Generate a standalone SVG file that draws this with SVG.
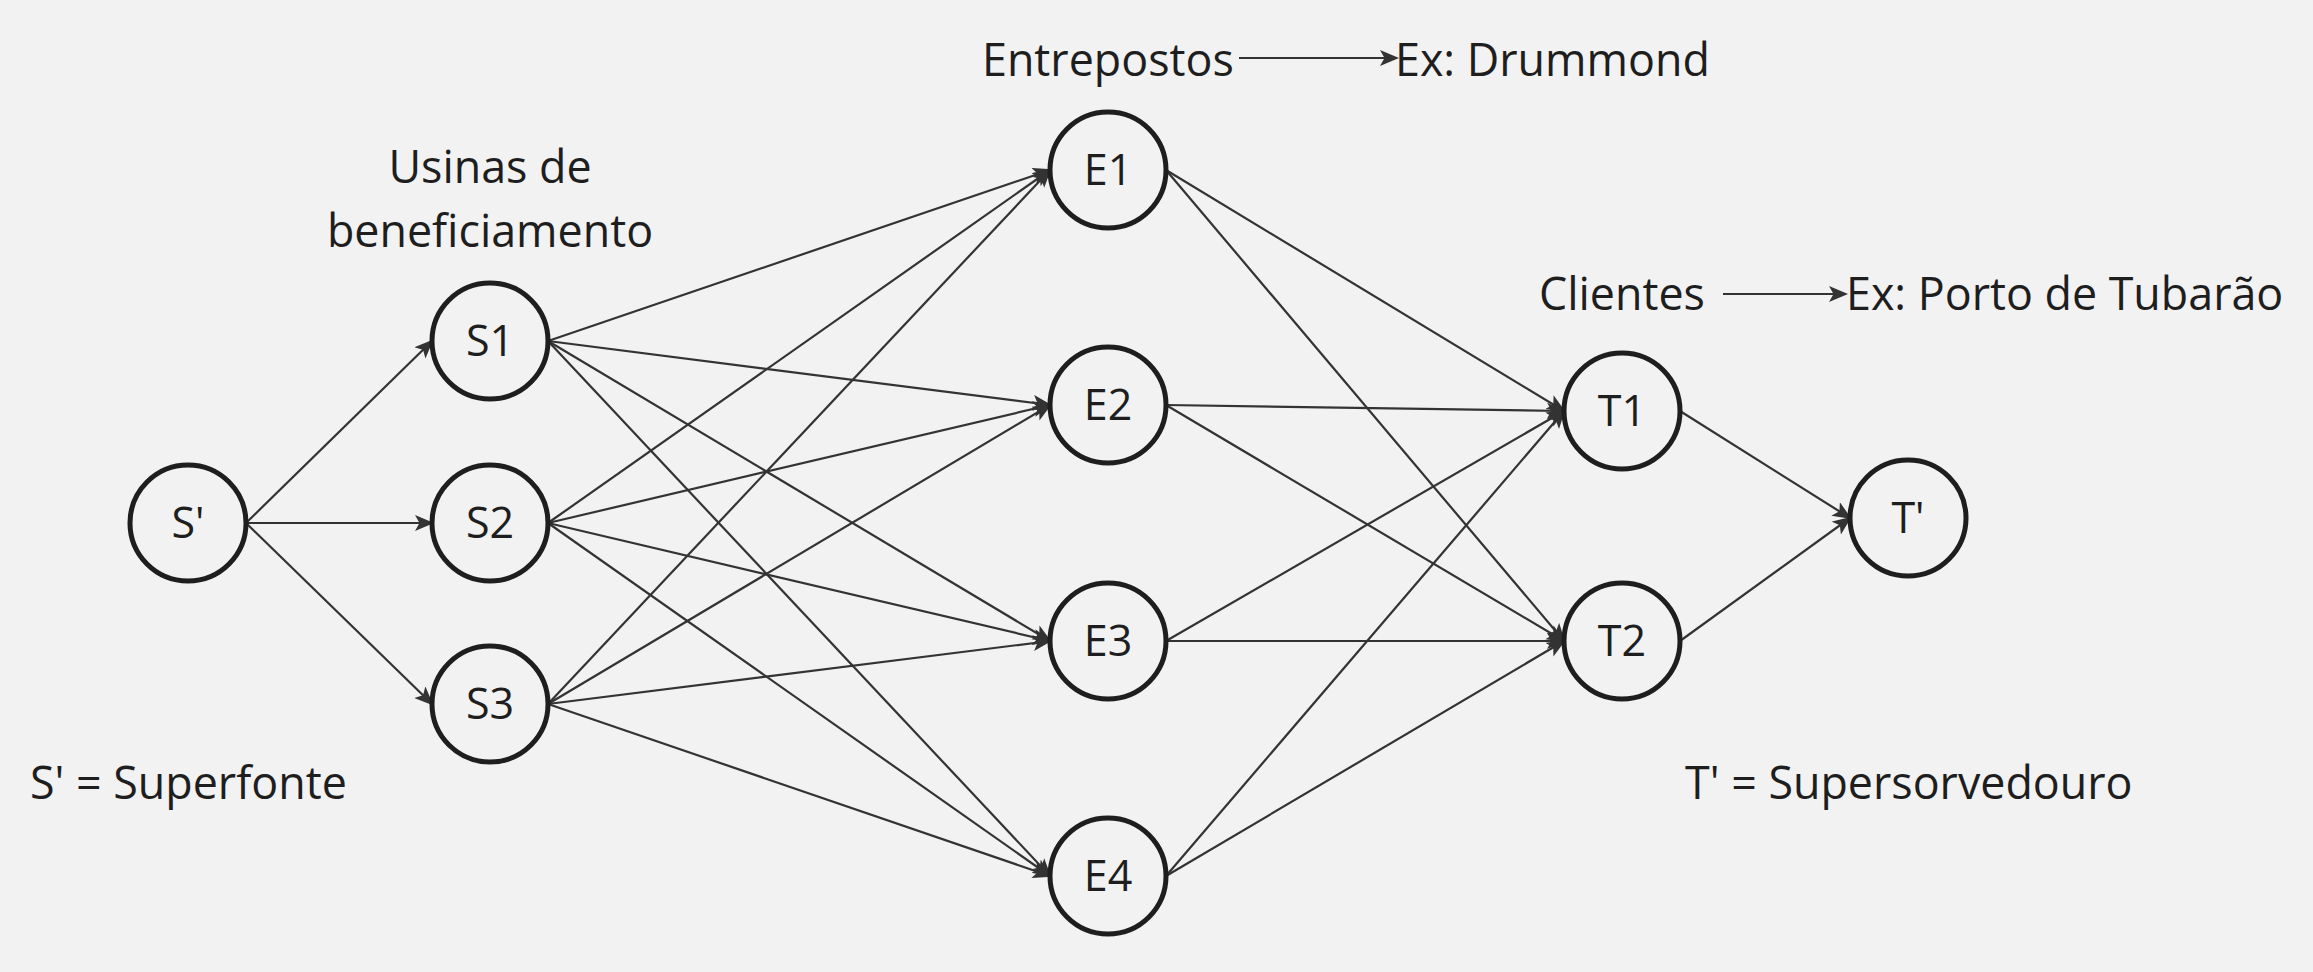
<svg xmlns="http://www.w3.org/2000/svg" width="2313" height="972" viewBox="0 0 2313 972">
<defs>
<marker id="arr" markerUnits="userSpaceOnUse" markerWidth="20" markerHeight="18" refX="17" refY="8" orient="auto">
<path d="M0,0 L19,8 L0,16 L4.5,8 z" fill="#333333"/>
</marker>
<style>
.bg{fill:#f2f2f2}
.node circle{fill:#f2f2f2;stroke:#1e1e1e;stroke-width:5}
.node text{font-family:"Open Sans","Noto Sans","Liberation Sans",sans-serif;font-size:43px;fill:#1e1e1e;text-anchor:middle}
.lbl{font-family:"Open Sans","Noto Sans","Liberation Sans",sans-serif;font-size:44.8px;fill:#1e1e1e}
.edges line{stroke:#333333;stroke-width:2.2;marker-end:url(#arr)}
</style>
</defs>
<rect class="bg" x="0" y="0" width="2313" height="972"/>
<g id="connectors" class="edges">
<line x1="246" y1="523" x2="432" y2="341"/>
<line x1="246" y1="523" x2="432" y2="523"/>
<line x1="246" y1="523" x2="432" y2="704"/>
<line x1="548" y1="341" x2="1050" y2="170"/>
<line x1="548" y1="341" x2="1050" y2="405"/>
<line x1="548" y1="341" x2="1050" y2="641"/>
<line x1="548" y1="341" x2="1050" y2="876"/>
<line x1="548" y1="523" x2="1050" y2="170"/>
<line x1="548" y1="523" x2="1050" y2="405"/>
<line x1="548" y1="523" x2="1050" y2="641"/>
<line x1="548" y1="523" x2="1050" y2="876"/>
<line x1="548" y1="704" x2="1050" y2="170"/>
<line x1="548" y1="704" x2="1050" y2="405"/>
<line x1="548" y1="704" x2="1050" y2="641"/>
<line x1="548" y1="704" x2="1050" y2="876"/>
<line x1="1166" y1="170" x2="1564" y2="411"/>
<line x1="1166" y1="170" x2="1564" y2="641"/>
<line x1="1166" y1="405" x2="1564" y2="411"/>
<line x1="1166" y1="405" x2="1564" y2="641"/>
<line x1="1166" y1="641" x2="1564" y2="411"/>
<line x1="1166" y1="641" x2="1564" y2="641"/>
<line x1="1166" y1="876" x2="1564" y2="411"/>
<line x1="1166" y1="876" x2="1564" y2="641"/>
<line x1="1680" y1="411" x2="1850" y2="518"/>
<line x1="1680" y1="641" x2="1850" y2="518"/>
<line x1="1239" y1="58" x2="1397" y2="58"/>
<line x1="1723" y1="294" x2="1846" y2="294"/>
</g>
<g id="node-Sp" class="node"><circle cx="188" cy="523" r="58"/><text x="188" y="538">S'</text></g>
<g id="node-S1" class="node"><circle cx="490" cy="341" r="58"/><text x="490" y="356">S1</text></g>
<g id="node-S2" class="node"><circle cx="490" cy="523" r="58"/><text x="490" y="538">S2</text></g>
<g id="node-S3" class="node"><circle cx="490" cy="704" r="58"/><text x="490" y="719">S3</text></g>
<g id="node-E1" class="node"><circle cx="1108" cy="170" r="58"/><text x="1108" y="185">E1</text></g>
<g id="node-E2" class="node"><circle cx="1108" cy="405" r="58"/><text x="1108" y="420">E2</text></g>
<g id="node-E3" class="node"><circle cx="1108" cy="641" r="58"/><text x="1108" y="656">E3</text></g>
<g id="node-E4" class="node"><circle cx="1108" cy="876" r="58"/><text x="1108" y="891">E4</text></g>
<g id="node-T1" class="node"><circle cx="1622" cy="411" r="58"/><text x="1622" y="426">T1</text></g>
<g id="node-T2" class="node"><circle cx="1622" cy="641" r="58"/><text x="1622" y="656">T2</text></g>
<g id="node-Tp" class="node"><circle cx="1908" cy="518" r="58"/><text x="1908" y="533">T'</text></g>
<g id="labels">
<text class="lbl" x="490" y="183" text-anchor="middle">Usinas de</text>
<text class="lbl" x="490" y="247" text-anchor="middle">beneficiamento</text>
<text class="lbl" x="982" y="76">Entrepostos</text>
<text class="lbl" x="1395" y="76">Ex: Drummond</text>
<text class="lbl" x="1539" y="310">Clientes</text>
<text class="lbl" x="1846" y="310">Ex: Porto de Tubarão</text>
<text class="lbl" x="30" y="799">S' = Superfonte</text>
<text class="lbl" x="1685" y="799">T' = Supersorvedouro</text>
</g>
</svg>
